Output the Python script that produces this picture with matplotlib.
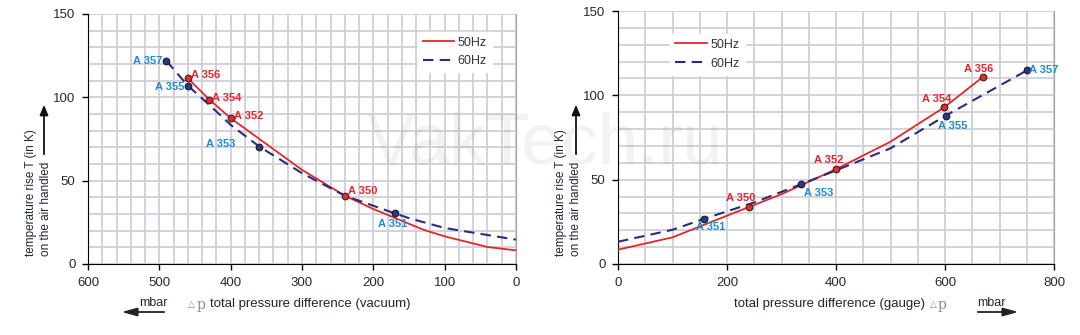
import matplotlib
matplotlib.use("Agg")
import matplotlib.pyplot as plt
from matplotlib.ticker import MultipleLocator

plt.rcParams['font.family'] = ['Liberation Sans', 'DejaVu Sans']

# ---------------- data ----------------
# Vacuum chart (left)
vac_50_x = [460, 430, 400, 350, 300, 240, 200, 130, 100, 40, 0]
vac_50_y = [111.4, 98.7, 87.5, 72, 56.5, 41, 33, 20.6, 16.6, 10.2, 8.2]
vac_60_x = [490, 460, 430, 400, 360, 300, 240, 170, 150, 100, 0]
vac_60_y = [121.8, 107, 95.5, 83.5, 70.5, 54.5, 41, 30.4, 27.5, 21.6, 14.6]
vac_50_pts_name = ["A 356", "A 354", "A 352", "A 350"]
vac_50_pts_x = [460, 430, 400, 240]
vac_50_pts_y = [111.4, 98.7, 87.5, 41]
vac_60_pts_name = ["A 357", "A 355", "A 353", "A 351"]
vac_60_pts_x = [490, 460, 360, 170]
vac_60_pts_y = [121.8, 107, 70.5, 30.4]

# Gauge chart (right)
gau_50_x = [0, 100, 241, 300, 400, 500, 599, 670]
gau_50_y = [8.5, 15.8, 33.9, 41.4, 56.2, 72.5, 93, 111]
gau_60_x = [0, 100, 158, 250, 336, 400, 500, 601, 751]
gau_60_y = [13.2, 20.3, 26.8, 36.5, 47.3, 55.5, 68.6, 87.9, 114.9]
gau_50_pts_name = ["A 350", "A 352", "A 354", "A 356"]
gau_50_pts_x = [241, 400, 599, 670]
gau_50_pts_y = [33.9, 56.2, 93, 111]
gau_60_pts_name = ["A 351", "A 353", "A 355", "A 357"]
gau_60_pts_x = [158, 336, 601, 751]
gau_60_pts_y = [26.8, 47.3, 87.9, 114.9]

series_labels = ["50Hz", "60Hz"]
y_ticks = [0, 50, 100, 150]
vac_x_ticks = [600, 500, 400, 300, 200, 100, 0]
gau_x_ticks = [0, 200, 400, 600, 800]

# ---------------- styles ----------------
RED = '#e3262b'
NAVY = '#2b2b7e'
LBL_RED = '#e3262b'
LBL_BLUE = '#1d8ad2'
GRID = '#cfd0d8'
TXT = '#1e2633'

# label placement (offset points, alignment) per point
vac_off_50 = [((2.5, 2.5), 'left'), ((2.2, 1), 'left'), ((2.7, 1.7), 'left'), ((2.2, 3.2), 'left')]
vac_off_60 = [((-3, 0), 'right'), ((-2.5, -1), 'right'), ((-17, 1.7), 'right'), ((-1.5, -7.7), 'center')]
gau_off_50 = [((-6.2, 6.4), 'center'), ((-5, 6.4), 'center'), ((-5.7, 6), 'center'), ((-3.5, 5.7), 'center')]
gau_off_60 = [((5, -6.2), 'center'), ((2.2, -6), 'left'), ((5.2, -7.7), 'center'), ((1.2, 0), 'left')]

fig = plt.figure(figsize=(10.8, 3.35), dpi=100)
axL = fig.add_axes([88/1080, 1-264/335, (516-88)/1080, 250/335])
axR = fig.add_axes([618/1080, 1-264/335, (1054-618)/1080, 253/335])


def style_axes(ax, xlim, xticks, xminor):
    ax.set_xlim(*xlim)
    ax.set_ylim(0, 150)
    ax.set_xticks(xticks)
    ax.set_yticks(y_ticks)
    ax.xaxis.set_minor_locator(MultipleLocator(xminor))
    ax.yaxis.set_minor_locator(MultipleLocator(10))
    ax.grid(True, which='both', color=GRID, lw=1.3, zorder=0)
    ax.set_axisbelow(True)
    ax.spines['top'].set_visible(False)
    ax.spines['right'].set_color('#a0a0a8')
    ax.spines['left'].set_color('black')
    ax.spines['bottom'].set_color('black')
    ax.tick_params(which='major', direction='out', length=4, width=1,
                   labelsize=9.5, labelcolor='#2a2a2a', pad=5)
    ax.tick_params(which='minor', length=0)


def draw(ax, x50, y50, x60, y60, p50n, p50x, p50y, p60n, p60x, p60y, off50, off60):
    l1, = ax.plot(x50, y50, color=RED, lw=1.3, zorder=3, label=series_labels[0])
    l2, = ax.plot(x60, y60, color=NAVY, lw=1.5, dashes=(5, 3), zorder=3, label=series_labels[1])
    ax.plot(p50x, p50y, 'o', ms=4.8, mfc='#d8302c', mec='#4a1a1a', mew=0.8, zorder=4)
    ax.plot(p60x, p60y, 'o', ms=4.8, mfc='#2c3a78', mec='#15183a', mew=0.8, zorder=4)
    for n, x, y, (o, ha) in zip(p50n, p50x, p50y, off50):
        ax.annotate(n, (x, y), xytext=o, textcoords='offset points', ha=ha, va='center',
                    color=LBL_RED, fontsize=8, fontweight='bold', zorder=5)
    for n, x, y, (o, ha) in zip(p60n, p60x, p60y, off60):
        ax.annotate(n, (x, y), xytext=o, textcoords='offset points', ha=ha, va='center',
                    color=LBL_BLUE, fontsize=8, fontweight='bold', zorder=5)
    return l1, l2


style_axes(axL, (600, 0), vac_x_ticks, 20)
style_axes(axR, (0, 800), gau_x_ticks, 50)

draw(axL, vac_50_x, vac_50_y, vac_60_x, vac_60_y,
     vac_50_pts_name, vac_50_pts_x, vac_50_pts_y,
     vac_60_pts_name, vac_60_pts_x, vac_60_pts_y, vac_off_50, vac_off_60)
draw(axR, gau_50_x, gau_50_y, gau_60_x, gau_60_y,
     gau_50_pts_name, gau_50_pts_x, gau_50_pts_y,
     gau_60_pts_name, gau_60_pts_x, gau_60_pts_y, gau_off_50, gau_off_60)

for ax, loc, anchor in [(axL, 'upper right', (0.944, 0.93)), (axR, 'upper left', (0.12, 0.91))]:
    leg = ax.legend(loc=loc, bbox_to_anchor=anchor, fontsize=9, frameon=True,
                    fancybox=False, framealpha=1, handlelength=2.5, handletextpad=0.3,
                    borderpad=0.4, labelspacing=0.55, borderaxespad=0)
    leg.get_frame().set_edgecolor('white')
    leg.get_frame().set_facecolor('white')
    for t in leg.get_texts():
        t.set_color('#333333')

# y labels with arrows
for x1, x2, xa in [(31, 46, 44), (561, 576, 576)]:
    fig.text(x1/1080, 1-256/335, "temperature rise T (in K)", rotation=90,
             ha='center', va='bottom', fontsize=8.5, color=TXT)
    fig.text(x2/1080, 1-256/335, "on the air handled", rotation=90,
             ha='center', va='bottom', fontsize=8.5, color=TXT)
    fig.add_artist(matplotlib.patches.FancyArrowPatch(
        (xa/1080, 1-157/335), (xa/1080, 1-102/335), transform=fig.transFigure,
        arrowstyle='-|>,head_length=6,head_width=2.5', color='#111111', lw=1.3,
        mutation_scale=1))

# x labels
fig.text(210/1080, 1-304/335, "total pressure difference (vacuum)", ha='left', va='center',
         fontsize=9.5, color=TXT)
fig.text(188/1080, 1-304/335, "\u25B3", ha='left', va='center', fontsize=6.5,
         color='#8a8c98', family='DejaVu Sans')
fig.text(197/1080, 1-305/335, "p", ha='left', va='center', fontsize=10,
         color='#8a8c98', family='DejaVu Serif')
fig.text(153/1080, 1-303/335, "mbar", ha='center', va='center', fontsize=9, color=TXT)
fig.add_artist(matplotlib.patches.FancyArrowPatch(
    (167/1080, 1-312/335), (119/1080, 1-312/335), transform=fig.transFigure,
    arrowstyle='-|>,head_length=9,head_width=2.5', color='#222222', lw=1.3, mutation_scale=1))

fig.text(925/1080, 1-304/335, "total pressure difference (gauge)", ha='right', va='center',
         fontsize=9.5, color=TXT)
fig.text(930/1080, 1-304/335, "\u25B3", ha='left', va='center', fontsize=6.5,
         color='#8a8c98', family='DejaVu Sans')
fig.text(938/1080, 1-305/335, "p", ha='left', va='center', fontsize=10,
         color='#8a8c98', family='DejaVu Serif')
fig.text(991/1080, 1-303/335, "mbar", ha='center', va='center', fontsize=9, color=TXT)
fig.add_artist(matplotlib.patches.FancyArrowPatch(
    (975/1080, 1-312/335), (1021/1080, 1-312/335), transform=fig.transFigure,
    arrowstyle='-|>,head_length=9,head_width=2.5', color='#222222', lw=1.3, mutation_scale=1))

# watermark
fig.text(545/1080, 1-145/335, "VakTech.ru", ha='center', va='center', fontsize=52,
         color='#808080', alpha=0.1, zorder=10)

fig.savefig("out.png", dpi=100)
